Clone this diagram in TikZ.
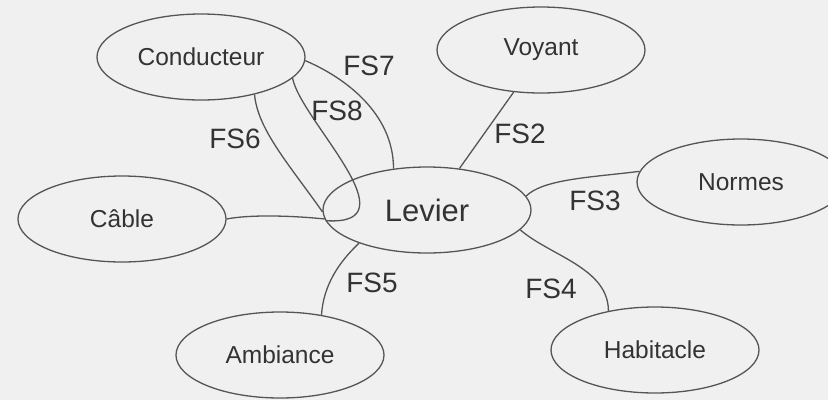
\documentclass[tikz,border=0pt]{standalone}
\usepackage{fontspec}
\setmainfont{Liberation Sans}
\usetikzlibrary{shapes.geometric}
\definecolor{bgcol}{HTML}{F0F0F0}
\definecolor{edgecol}{HTML}{555555}
\definecolor{txtcol}{HTML}{333333}
\tikzset{
  ent/.style={ellipse, draw=edgecol, line width=1.3pt, fill=bgcol,
    minimum width=208pt, minimum height=86pt, inner sep=0pt,
    text=txtcol, font=\fontsize{24.5}{28}\selectfont},
  central/.style={ent, font=\fontsize{31}{34}\selectfont},
  link/.style={draw=edgecol, line width=1.3pt},
  fslabel/.style={text=txtcol, font=\fontsize{28}{32}\selectfont, inner sep=0pt}
}
\begin{document}
\begin{tikzpicture}[x=1pt, y=-1pt]
\useasboundingbox (0,0) rectangle (828,400);
\fill[bgcol] (0,0) rectangle (828,400);
\clip (0,0) rectangle (828,400);

% connectors first (behind nodes? no: drawn after for overlap inside Levier)
\node[ent] (cond) at (201,57) {Conducteur};
\node[ent] (voy) at (541,50) {Voyant};
\node[ent] (norm) at (741,182) {Normes};
\node[ent] (cab) at (122,219) {Câble};
\node[ent] (amb) at (280,355) {Ambiance};
\node[ent] (hab) at (655,350) {Habitacle};
\node[central] (lev) at (427,210) {Levier};

\draw[link] (cond.-2) .. controls +(40,17) and +(0,-55) .. (lev.129);
\draw[link] (cond.-13) .. controls +(8,42) and +(90,6) .. (lev.186);
\draw[link] (cond.-35) .. controls +(3,35) and +(-33,-47) .. (lev.181);
\draw[link] (cab.east) .. controls +(20,-4) and +(-40,-4) .. (lev.185);
\draw[link] (voy.237) -- (lev.52);
\draw[link] (lev.8) .. controls +(17,-17) and +(-48,6) .. (norm.174);
\draw[link] (lev.-12) .. controls +(30,26) and +(0,-43) .. (hab.140);
\draw[link] (lev.206) .. controls +(-20,19) and +(2,-30) .. (amb.44);

\node[fslabel] (l7) at (369,66) {FS7};
\node[fslabel] (l8) at (337,111) {FS8};
\node[fslabel] (l6) at (235,139) {FS6};
\node[fslabel] (l2) at (520,134) {FS2};
\node[fslabel] (l3) at (595,201) {FS3};
\node[fslabel] (l4) at (551,289) {FS4};
\node[fslabel] (l5) at (372,283) {FS5};
\end{tikzpicture}
\end{document}
